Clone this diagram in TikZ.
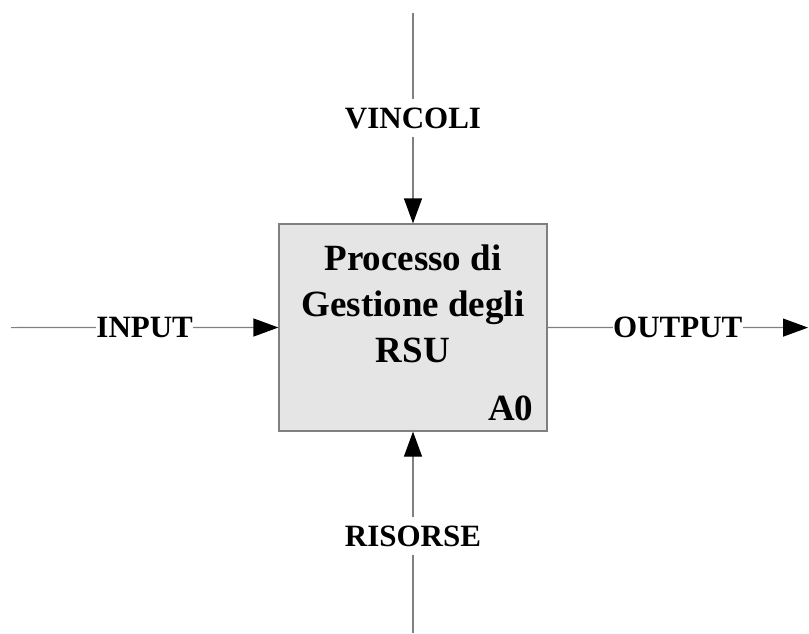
\documentclass[tikz,border=0pt]{standalone}
\usepackage{fontspec}
\setmainfont{Liberation Serif}
\usetikzlibrary{arrows.meta}

\begin{document}
\begin{tikzpicture}[x=1pt,y=-1pt,
        flow/.style={draw=gray, line width=1.2pt},
        tip/.style={-{Triangle[length=25pt,width=18pt,color=black]}},
        lbl/.style={fill=white, inner xsep=0.5pt, inner ysep=8.5pt, font=\fontsize{31}{36}\selectfont\bfseries},
        big/.style={inner sep=0pt, font=\fontsize{37}{46}\selectfont\bfseries}]
        \useasboundingbox (0,0) rectangle (809,634);
        % the activity box
        \node [draw=gray, line width=1.2pt, fill=black!10, minimum width=268pt, minimum height=207pt, inner sep=0pt] (proc) at (413,327.5) {};
        \node [big, anchor=north, align=center] (title) at (413,245) {Processo di\\Gestione degli\\RSU};
        \node [big, anchor=south east] (num) at ([xshift=-14pt,yshift=11pt]proc.south east) {A0};
        % free ends of the arrows
        \coordinate (in) at (11,327.6);
        \coordinate (out) at (808,327.6);
        \coordinate (top) at (413,13);
        \coordinate (bot) at (413,633);
        % ICOM arrows
        \draw [flow, tip] (in) -- node [lbl] (input) {INPUT} (proc.west);
        \draw [flow, tip] (proc.east) -- node [lbl] (output) {OUTPUT} (out);
        \draw [flow, tip] (top) -- node [lbl] (vincoli) {VINCOLI} (proc.north);
        \draw [flow, tip] (bot) -- node [lbl, pos=0.48] (risorse) {RISORSE} (proc.south);
\end{tikzpicture}
\end{document}
